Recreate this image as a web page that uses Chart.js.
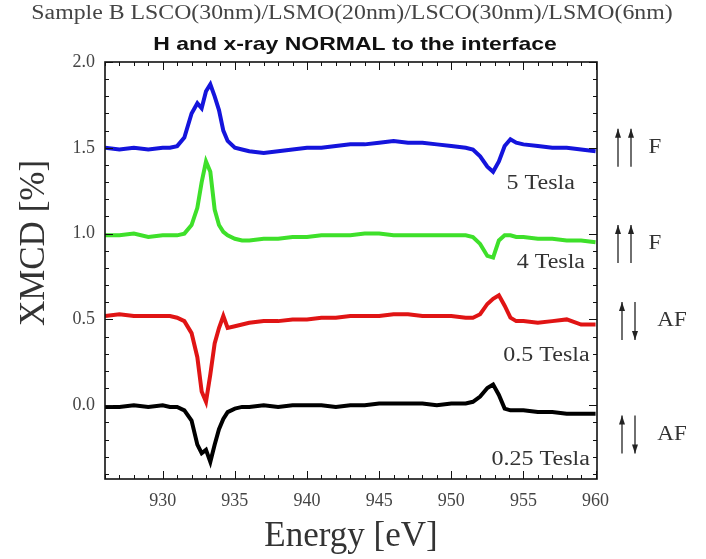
<!DOCTYPE html>
<html>
<head>
<meta charset="utf-8">
<script src="https://cdn.jsdelivr.net/npm/chart.js@4.4.1/dist/chart.umd.min.js"></script>
<style>
  html, body { margin: 0; padding: 0; background: #fff; }
  #wrap { width: 706px; height: 559px; }
</style>
</head>
<body>
<div id="wrap"><canvas id="xmcd"></canvas></div>
<script>
// photon energy (eV), shared by all four scans
const energy = [926, 927, 928, 929, 930, 930.5, 931, 931.5, 932, 932.4, 932.7, 933, 933.3, 933.6, 933.9, 934.2, 934.5, 935, 935.5, 936,
  937, 938, 939, 940, 941, 942, 943, 944, 945, 946, 947, 948, 949, 950, 951, 951.5, 952, 952.5, 952.9, 953.3,
  953.7, 954.1, 954.5, 955, 956, 957, 958, 959, 960];

// XMCD (%), curves are offset vertically as in the original
const xmcd5T = [1.50, 1.49, 1.50, 1.49, 1.50, 1.50, 1.51, 1.56, 1.70, 1.76, 1.73, 1.83, 1.87, 1.80, 1.72, 1.60, 1.54, 1.50, 1.49, 1.48,
  1.47, 1.48, 1.49, 1.50, 1.50, 1.51, 1.52, 1.52, 1.53, 1.54, 1.53, 1.53, 1.52, 1.51, 1.50, 1.49, 1.45, 1.39, 1.36, 1.42,
  1.51, 1.55, 1.53, 1.52, 1.51, 1.50, 1.50, 1.49, 1.48];
const xmcd4T = [0.99, 0.99, 1.00, 0.98, 0.99, 0.99, 0.99, 1.00, 1.05, 1.15, 1.30, 1.42, 1.36, 1.14, 1.05, 1.01, 0.99, 0.97, 0.96, 0.96,
  0.97, 0.97, 0.98, 0.98, 0.99, 0.99, 0.99, 1.00, 1.00, 0.99, 0.99, 0.99, 0.99, 0.99, 0.99, 0.98, 0.94, 0.87, 0.86, 0.96,
  0.99, 0.99, 0.98, 0.98, 0.97, 0.97, 0.96, 0.96, 0.95];
const xmcd05T = [0.52, 0.53, 0.52, 0.52, 0.52, 0.52, 0.51, 0.49, 0.42, 0.28, 0.08, 0.02, 0.18, 0.36, 0.45, 0.52, 0.45, 0.46, 0.47, 0.48,
  0.49, 0.49, 0.50, 0.50, 0.51, 0.51, 0.52, 0.52, 0.52, 0.53, 0.53, 0.52, 0.52, 0.52, 0.51, 0.51, 0.53, 0.59, 0.62, 0.64,
  0.58, 0.51, 0.49, 0.49, 0.48, 0.49, 0.50, 0.47, 0.47];
const xmcd025T = [-0.01, -0.01, 0.00, -0.01, 0.00, -0.01, -0.01, -0.03, -0.09, -0.23, -0.28, -0.26, -0.33, -0.23, -0.14, -0.08, -0.04, -0.02, -0.01, -0.01,
  0.00, -0.01, 0.00, 0.00, 0.00, -0.01, 0.00, 0.00, 0.01, 0.01, 0.01, 0.01, 0.00, 0.01, 0.01, 0.02, 0.05, 0.10, 0.12, 0.06,
  -0.02, -0.03, -0.03, -0.03, -0.04, -0.04, -0.05, -0.05, -0.05];

const fieldNames = ['5 Tesla', '4 Tesla', '0.5 Tesla', '0.25 Tesla'];
const couplings = ['F', 'F', 'AF', 'AF'];
const xTicks = [930, 935, 940, 945, 950, 955, 960];
const yTicks = [0.0, 0.5, 1.0, 1.5, 2.0];

const series = [xmcd5T, xmcd4T, xmcd05T, xmcd025T];
const colors = ['#1414dc', '#3ee02a', '#e01414', '#000000'];

const serif = '"Liberation Serif", "Times New Roman", serif';
const sans = '"Liberation Sans", Arial, sans-serif';

// where the field labels and the spin arrows go (data units)
const labelAt = [[956.2, 1.29], [956.9, 0.83], [956.6, 0.29], [956.2, -0.32]];
const arrowAt = [1.50, 0.94, 0.49, -0.17];

// the original figure is a bit stretched sideways, so text is drawn with a horizontal scale
function wideText(ctx, text, cx, cy, sx) {
  ctx.save();
  ctx.translate(cx, cy);
  ctx.scale(sx, 1);
  ctx.fillText(text, 0, 0);
  ctx.restore();
}

const decor = {
  id: 'decor',
  afterDraw(chart) {
    const { ctx, chartArea: a, scales: { x, y } } = chart;
    ctx.save();
    ctx.strokeStyle = '#111';
    ctx.lineWidth = 1;
    ctx.beginPath();
    for (let e = 926; e <= 960; e++) {
      const px = Math.round(x.getPixelForValue(e)) + 0.5;
      const len = e % 5 === 0 ? 8 : 4;
      ctx.moveTo(px, a.bottom); ctx.lineTo(px, a.bottom - len);
      ctx.moveTo(px, a.top); ctx.lineTo(px, a.top + len);
    }
    for (let k = -4; k <= 20; k++) {
      const py = Math.round(y.getPixelForValue(k / 10)) + 0.5;
      const len = k % 5 === 0 ? 8 : 4;
      ctx.moveTo(a.left, py); ctx.lineTo(a.left + len, py);
      ctx.moveTo(a.right, py); ctx.lineTo(a.right - len, py);
    }
    ctx.stroke();
    ctx.lineWidth = 1.6;
    ctx.strokeRect(a.left, a.top, a.right - a.left, a.bottom - a.top);

    ctx.textAlign = 'center';
    ctx.textBaseline = 'middle';

    // titles
    ctx.fillStyle = '#444';
    ctx.font = '20px ' + serif;
    wideText(ctx, 'Sample B LSCO(30nm)/LSMO(20nm)/LSCO(30nm)/LSMO(6nm)', 352, 14, 1.19);
    ctx.fillStyle = '#111';
    ctx.font = 'bold 19px ' + sans;
    wideText(ctx, 'H and x-ray NORMAL to the interface', 355, 45, 1.21);

    // field labels
    ctx.fillStyle = '#333';
    ctx.font = '20px ' + serif;
    fieldNames.forEach((t, i) => {
      wideText(ctx, t, x.getPixelForValue(labelAt[i][0]), y.getPixelForValue(labelAt[i][1]), 1.2);
    });

    // spin arrows + F / AF on the right
    const arrow = (px, y0, y1, up) => {
      ctx.beginPath();
      ctx.moveTo(px, y0); ctx.lineTo(px, y1); ctx.stroke();
      const tip = up ? y0 : y1, d = up ? 1 : -1;
      ctx.beginPath();
      ctx.moveTo(px, tip);
      ctx.lineTo(px - 3, tip + 9 * d);
      ctx.lineTo(px + 3, tip + 9 * d);
      ctx.closePath(); ctx.fill();
    };
    ctx.strokeStyle = '#222';
    ctx.lineWidth = 1.3;
    couplings.forEach((c, i) => {
      const cy = y.getPixelForValue(arrowAt[i]);
      const x0 = a.right + (c === 'F' ? 21 : 25);
      ctx.fillStyle = '#222';
      arrow(x0, cy - 19, cy + 19, true);
      arrow(x0 + 13, cy - 19, cy + 19, c === 'F');
      ctx.fillStyle = '#333';
      wideText(ctx, c, x0 + (c === 'F' ? 37 : 50), cy, 1.15);
    });

    // y axis title
    ctx.fillStyle = '#333';
    ctx.font = '35px ' + serif;
    ctx.translate(35, 243);
    ctx.rotate(-Math.PI / 2);
    ctx.fillText('XMCD [%]', 0, 0);
    ctx.restore();
  }
};

new Chart(document.getElementById('xmcd'), {
  type: 'line',
  data: {
    datasets: series.map((vals, i) => ({
      label: fieldNames[i],
      data: energy.map((e, j) => ({ x: e, y: vals[j] })),
      borderColor: colors[i],
      backgroundColor: colors[i],
      borderWidth: 4,
      pointRadius: 0,
      tension: 0
    }))
  },
  options: {
    responsive: true,
    maintainAspectRatio: false,
    animation: false,
    layout: { padding: { left: 0, right: 109, top: 62, bottom: 0 } },
    plugins: {
      legend: { display: false },
      tooltip: { enabled: false }
    },
    scales: {
      x: {
        type: 'linear',
        min: 926,
        max: 960.1,
        afterFit: s => { s.height = 80; },
        afterBuildTicks: s => { s.ticks = xTicks.map(v => ({ value: v })); },
        grid: { display: false, drawTicks: false },
        border: { display: false },
        ticks: { color: '#444', padding: 11, maxRotation: 0, font: { family: serif, size: 18 } },
        title: { display: true, text: 'Energy [eV]', color: '#333', padding: { top: 0, bottom: 1 }, font: { family: serif, size: 35 } }
      },
      y: {
        min: -0.43,
        max: 2.0,
        afterFit: s => { s.width = 105; },
        afterBuildTicks: s => { s.ticks = yTicks.map(v => ({ value: v })); },
        grid: { display: false, drawTicks: false },
        border: { display: false },
        ticks: { color: '#444', padding: 10, font: { family: serif, size: 18 }, callback: v => v.toFixed(1) }
      }
    }
  },
  plugins: [decor]
});
</script>
</body>
</html>
